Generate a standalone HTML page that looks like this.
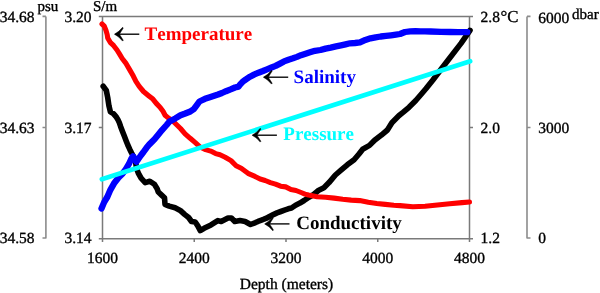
<!DOCTYPE html>
<html><head><meta charset="utf-8"><style>
html,body{margin:0;padding:0;background:#fff;}
svg{display:block;}
#w{width:600px;height:293px;overflow:hidden;will-change:transform;}
text{font-family:"Liberation Serif",serif;text-rendering:geometricPrecision;font-kerning:none;}
</style></head><body><div id="w">
<svg width="600" height="293" viewBox="0 0 600 293">
<rect width="600" height="293" fill="#fff"/>
<g stroke="#7a7a7a" stroke-width="1.5" fill="none">
<path d="M45.9,16.4 V238.6 M42.5,16.4 H45.9 M42.5,127.5 H45.9 M42.5,238 H45.9" stroke="#8c8c8c" stroke-width="1.6"/>
<path d="M102.5,16.4 V238.7 M98.8,16.4 H469.5 M98.8,127.5 H102.5 M98.8,238.7 H473 M469.5,16.4 V238.7 M469.5,16.4 H473 M469.5,127.5 H473"/>
<path d="M102.5,238.7 V242 M194.25,238.7 V242 M286,238.7 V242 M377.75,238.7 V242 M469.5,238.7 V242"/>
<path d="M527,16.4 V238.6 M527,16.4 H530.5 M527,127.5 H530.5 M527,238 H530.5" stroke="#8c8c8c" stroke-width="1.6"/>
</g>
<g fill="none" stroke-linejoin="round" stroke-linecap="round">
<polyline points="103.2,86.3 106.3,90.4 107.7,97.5 108.9,105.7 110.4,111.9 113.4,113.6 116.0,116.6 117.8,119.4 119.3,122.6 120.6,126.4 122.5,131.5 124.5,136.6 126.2,141.0 127.8,145.0 129.7,149.2 131.6,153.0 134.0,157.5 135.6,162.0 136.5,168.2 138.3,173.1 141.1,178.2 145.2,182.6 149.8,181.2 154.4,184.3 157.0,188.4 158.3,192.0 161.6,195.1 164.5,197.8 165.0,204.4 169.2,206.1 175.1,207.8 180.2,210.4 184.6,214.4 188.6,217.5 191.5,221.5 195.2,222.0 197.8,225.9 200.3,230.6 204.1,228.3 211.0,224.9 217.8,220.6 221.2,221.5 228.0,218.0 231.4,218.0 234.8,221.5 240.0,220.6 245.1,221.5 250.5,224.5 255.5,222.6 258.0,221.4 261.5,220.1 264.0,219.2 266.5,218.2 269.5,216.5 273.3,214.6 277.0,212.9 280.8,211.5 284.5,210.1 288.2,208.8 291.5,208.0 295.6,205.2 299.9,203.1 304.1,200.5 307.5,198.2 313.7,194.5 318.8,190.2 323.9,187.7 329.0,182.6 335.4,175.0 341.3,169.9 347.3,164.8 354.1,159.7 359.2,153.7 362.7,149.2 369.5,145.4 374.6,140.2 381.4,135.1 387.4,130.0 391.9,122.7 398.8,115.8 403.0,112.4 409.0,107.3 415.8,100.5 421.0,94.5 426.1,88.5 432.9,80.0 440.5,70.0 450.7,56.7 461.0,43.4 470.0,30.4" stroke="#000" stroke-width="5.6"/>
<polyline points="102.0,24.0 104.3,26.1 106.0,30.4 107.2,34.6 107.7,38.0 110.2,42.3 113.7,45.7 117.0,50.0 119.6,54.2 122.2,58.5 125.6,62.8 129.9,70.1 133.3,76.1 135.8,81.2 139.2,86.3 143.5,91.5 148.6,95.7 152.9,99.1 156.3,103.4 160.0,107.2 163.0,111.3 165.1,115.3 168.2,117.9 172.3,120.5 176.4,124.5 180.5,128.5 185.1,133.8 190.2,138.3 195.3,142.6 200.5,147.3 205.6,149.6 210.7,151.1 215.6,153.6 220.0,154.8 225.2,157.3 231.0,160.6 236.1,165.7 241.2,168.2 248.0,173.3 255.0,176.4 260.1,179.0 265.2,180.5 270.4,182.6 275.5,184.1 280.6,186.2 285.7,186.9 290.9,189.5 296.0,190.5 301.1,192.5 305.0,194.1 308.5,195.0 317.1,196.7 325.6,197.2 334.1,198.1 342.7,199.3 351.2,200.1 359.7,200.6 368.3,202.3 376.8,203.5 385.3,204.4 393.9,205.2 400.0,205.6 412.8,206.8 425.1,206.2 437.4,205.0 449.7,203.8 462.0,202.6 469.5,202.0" stroke="#f00" stroke-width="5.1"/>
<polyline points="101.5,208.5 104.2,202.1 107.3,197.0 110.4,189.8 114.5,182.7 118.6,177.5 122.7,173.4 125.7,169.3 128.8,164.2 131.2,159.0 133.0,156.2 134.8,159.2 136.3,161.8 138.5,158.8 141.0,155.2 143.5,152.0 146.5,147.8 149.0,144.8 151.5,142.2 154.5,139.2 157.8,135.2 161.8,130.3 166.6,125.0 169.5,121.5 172.0,120.2 175.3,118.4 180.5,115.3 184.6,113.8 189.7,111.8 193.8,109.2 196.8,105.1 199.4,101.5 201.5,100.5 205.0,98.8 209.0,97.5 213.5,96.0 218.0,94.5 222.0,93.0 226.0,91.2 230.6,89.4 235.0,87.5 238.5,86.6 240.0,84.6 242.6,81.8 245.6,79.6 250.0,76.7 254.0,74.6 258.5,72.7 263.0,71.0 267.0,69.3 271.5,67.5 275.6,65.9 280.0,63.6 284.0,61.4 288.5,59.7 293.0,58.3 297.0,56.9 301.0,55.2 305.6,53.7 310.0,52.3 315.0,50.8 320.5,50.0 325.6,48.6 330.7,47.6 336.0,46.4 341.0,45.4 345.5,44.4 350.0,43.3 355.0,43.0 360.0,42.4 365.4,39.9 370.5,38.3 375.6,37.3 380.7,36.5 386.0,35.9 391.0,35.3 396.0,34.6 400.0,34.0 405.0,32.0 410.2,31.3 415.5,31.1 420.5,31.3 425.0,31.3 430.7,31.5 441.0,31.8 450.0,32.0 458.3,32.1 467.3,32.2" stroke="#00f" stroke-width="6.3"/>
<polyline points="101.8,179.3 470.2,61.2" stroke="#0ff" stroke-width="4.6"/>
</g>
<g font-size="15.5" fill="#000" stroke="#000" stroke-width="0.35">
<text x="34.6" y="22.2" text-anchor="end">34.68</text>
<text x="34.6" y="132.7" text-anchor="end">34.63</text>
<text x="34.6" y="242.7" text-anchor="end">34.58</text>
<text x="91.5" y="22.2" text-anchor="end">3.20</text>
<text x="91.5" y="132.7" text-anchor="end">3.17</text>
<text x="91.5" y="242.7" text-anchor="end">3.14</text>
<text x="480.5" y="22.2">2.8<tspan font-size="16.8" dx="0.6">°C</tspan></text>
<text x="480.5" y="132.7">2.0</text>
<text x="480.5" y="242.7">1.2</text>
<text x="538.3" y="22.7">6000</text>
<text x="538.3" y="132.7">3000</text>
<text x="538.3" y="243.4">0</text>
<text x="102.5" y="263.1" text-anchor="middle">1600</text>
<text x="194.25" y="263.1" text-anchor="middle">2400</text>
<text x="286" y="263.1" text-anchor="middle">3200</text>
<text x="377.75" y="263.1" text-anchor="middle">4000</text>
<text x="469.5" y="263.1" text-anchor="middle">4800</text>
<text x="286.5" y="288.6" text-anchor="middle">Depth (meters)</text>
</g>
<g font-size="15.0" fill="#000" stroke="#000" stroke-width="0.35">
<text x="37.4" y="11.4">psu</text>
<text x="92.9" y="10.8">S/m</text>
<text x="572" y="18.7">dbar</text>
</g>
<g transform="translate(114.4,34.2)"><path d="M1,0 L24.9,0" stroke="#000" stroke-width="1.35" fill="none"/><path d="M0,0 Q4.5,-2.2 8.2,-6.9 L8.9,-6.1 Q6.6,-2.4 5,0 Q6.6,2.4 8.9,6.1 L8.2,6.9 Q4.5,2.2 0,0 Z" fill="#000" stroke="#000" stroke-width="0.45" stroke-linejoin="round"/></g>
<g transform="translate(263.3,77.2)"><path d="M1,0 L24.9,0" stroke="#000" stroke-width="1.35" fill="none"/><path d="M0,0 Q4.5,-2.2 8.2,-6.9 L8.9,-6.1 Q6.6,-2.4 5,0 Q6.6,2.4 8.9,6.1 L8.2,6.9 Q4.5,2.2 0,0 Z" fill="#000" stroke="#000" stroke-width="0.45" stroke-linejoin="round"/></g>
<g transform="translate(252,135.2)"><path d="M1,0 L24.9,0" stroke="#000" stroke-width="1.35" fill="none"/><path d="M0,0 Q4.5,-2.2 8.2,-6.9 L8.9,-6.1 Q6.6,-2.4 5,0 Q6.6,2.4 8.9,6.1 L8.2,6.9 Q4.5,2.2 0,0 Z" fill="#000" stroke="#000" stroke-width="0.45" stroke-linejoin="round"/></g>
<g transform="translate(264.6,223.9)"><path d="M1,0 L24.9,0" stroke="#000" stroke-width="1.35" fill="none"/><path d="M0,0 Q4.5,-2.2 8.2,-6.9 L8.9,-6.1 Q6.6,-2.4 5,0 Q6.6,2.4 8.9,6.1 L8.2,6.9 Q4.5,2.2 0,0 Z" fill="#000" stroke="#000" stroke-width="0.45" stroke-linejoin="round"/></g>
<g font-size="19" font-weight="bold">
<text x="144.6" y="40" fill="#f00">Temperature</text>
<text x="293.6" y="82.7" fill="#00f">Salinity</text>
<text x="283.3" y="140.3" fill="#0ff">Pressure</text>
<text x="296.2" y="228.7" fill="#000">Conductivity</text>
</g>
</svg></div>
</body></html>
